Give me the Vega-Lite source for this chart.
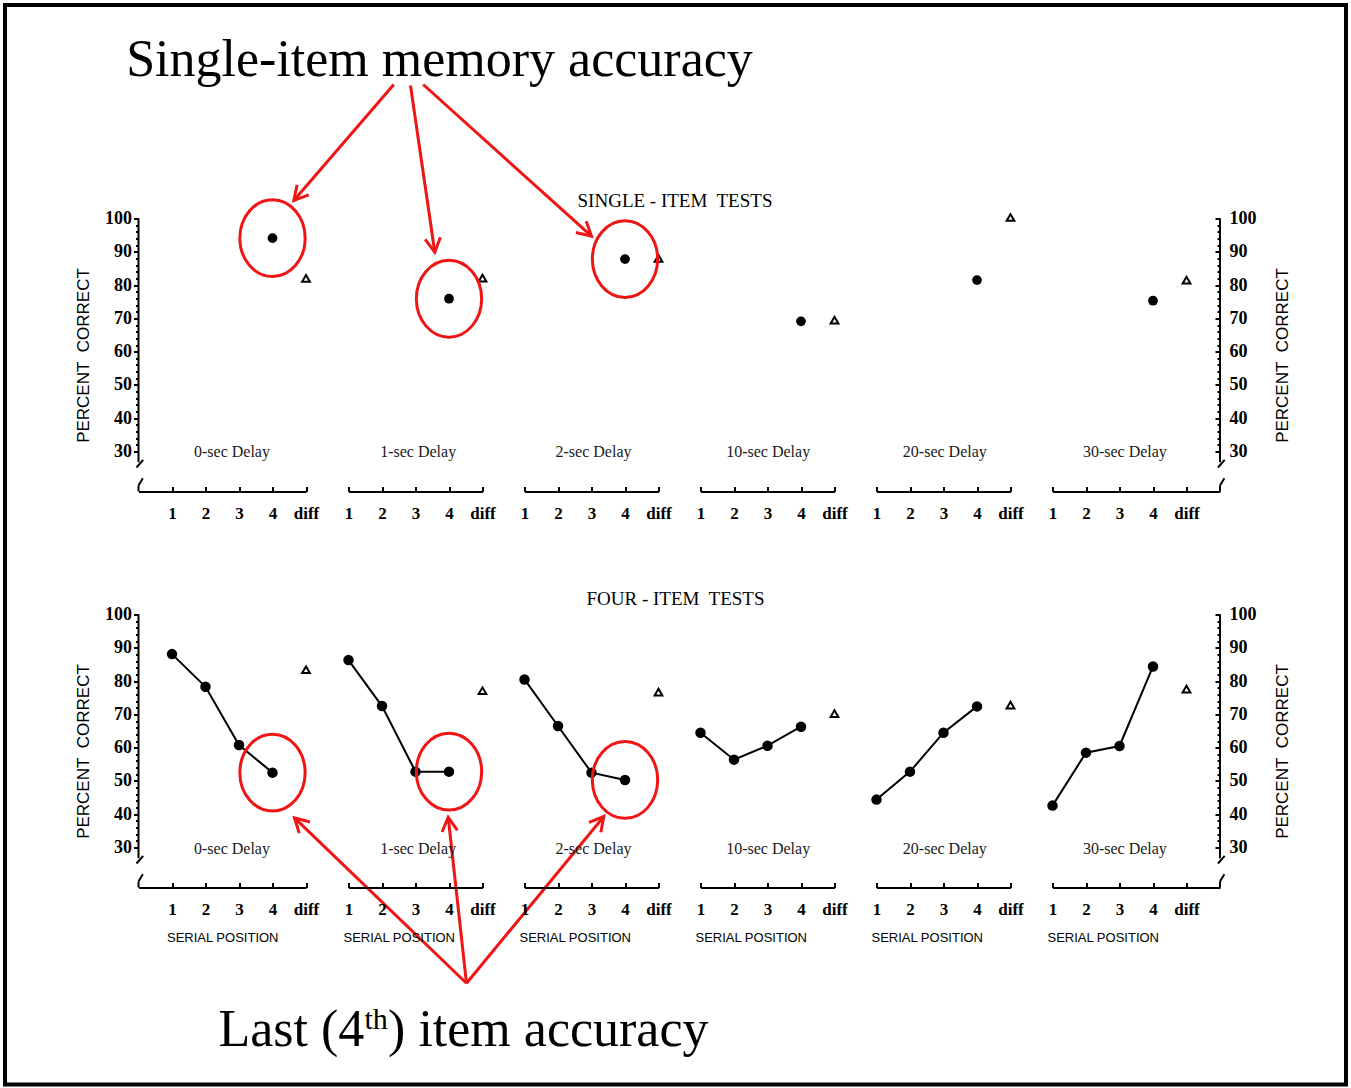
{
 "$schema": "https://vega.github.io/schema/vega-lite/v6.json",
 "background": "white",
 "padding": {"left": 2.5, "top": 2.5, "right": 2, "bottom": 2},
 "autosize": {"type": "pad"},
 "bounds": "flush",
 "align": "each",
 "columns": 6,
 "spacing": {"row": 123, "column": 42},
 "datasets": {
  "single": [
   {"delay": "0-sec", "pos": 4, "kind": "item", "pct": 94.1},
   {"delay": "0-sec", "pos": 5, "kind": "diff", "pct": 82.0},
   {"delay": "1-sec", "pos": 4, "kind": "item", "pct": 75.9},
   {"delay": "1-sec", "pos": 5, "kind": "diff", "pct": 82.1},
   {"delay": "2-sec", "pos": 4, "kind": "item", "pct": 87.8},
   {"delay": "2-sec", "pos": 5, "kind": "diff", "pct": 88.0},
   {"delay": "10-sec", "pos": 4, "kind": "item", "pct": 69.1},
   {"delay": "10-sec", "pos": 5, "kind": "diff", "pct": 69.5},
   {"delay": "20-sec", "pos": 4, "kind": "item", "pct": 81.5},
   {"delay": "20-sec", "pos": 5, "kind": "diff", "pct": 100.3},
   {"delay": "30-sec", "pos": 4, "kind": "item", "pct": 75.3},
   {"delay": "30-sec", "pos": 5, "kind": "diff", "pct": 81.5}
  ],
  "four": [
   {"delay": "0-sec", "pos": 1, "kind": "item", "pct": 88.1},
   {"delay": "0-sec", "pos": 2, "kind": "item", "pct": 78.3},
   {"delay": "0-sec", "pos": 3, "kind": "item", "pct": 60.8},
   {"delay": "0-sec", "pos": 4, "kind": "item", "pct": 52.5},
   {"delay": "0-sec", "pos": 5, "kind": "diff", "pct": 83.4},
   {"delay": "1-sec", "pos": 1, "kind": "item", "pct": 86.3},
   {"delay": "1-sec", "pos": 2, "kind": "item", "pct": 72.5},
   {"delay": "1-sec", "pos": 3, "kind": "item", "pct": 52.8},
   {"delay": "1-sec", "pos": 4, "kind": "item", "pct": 52.8},
   {"delay": "1-sec", "pos": 5, "kind": "diff", "pct": 77.1},
   {"delay": "2-sec", "pos": 1, "kind": "item", "pct": 80.5},
   {"delay": "2-sec", "pos": 2, "kind": "item", "pct": 66.5},
   {"delay": "2-sec", "pos": 3, "kind": "item", "pct": 52.5},
   {"delay": "2-sec", "pos": 4, "kind": "item", "pct": 50.3},
   {"delay": "2-sec", "pos": 5, "kind": "diff", "pct": 76.7},
   {"delay": "10-sec", "pos": 1, "kind": "item", "pct": 64.5},
   {"delay": "10-sec", "pos": 2, "kind": "item", "pct": 56.4},
   {"delay": "10-sec", "pos": 3, "kind": "item", "pct": 60.6},
   {"delay": "10-sec", "pos": 4, "kind": "item", "pct": 66.3},
   {"delay": "10-sec", "pos": 5, "kind": "diff", "pct": 70.2},
   {"delay": "20-sec", "pos": 1, "kind": "item", "pct": 44.4},
   {"delay": "20-sec", "pos": 2, "kind": "item", "pct": 52.8},
   {"delay": "20-sec", "pos": 3, "kind": "item", "pct": 64.5},
   {"delay": "20-sec", "pos": 4, "kind": "item", "pct": 72.4},
   {"delay": "20-sec", "pos": 5, "kind": "diff", "pct": 72.8},
   {"delay": "30-sec", "pos": 1, "kind": "item", "pct": 42.6},
   {"delay": "30-sec", "pos": 2, "kind": "item", "pct": 58.5},
   {"delay": "30-sec", "pos": 3, "kind": "item", "pct": 60.5},
   {"delay": "30-sec", "pos": 4, "kind": "item", "pct": 84.4},
   {"delay": "30-sec", "pos": 5, "kind": "diff", "pct": 77.6}
  ]
 },
 "concat": [
  {
   "width": 167.5, "height": 273,
   "data": {"name": "single"},
   "encoding": {
    "x": {"type": "quantitative", "scale": {"domain": [0, 5], "nice": false, "zero": false},
          "axis": {"values": [1, 2, 3, 4, 5], "labelExpr": "datum.value === 5 ? 'diff' : datum.label", "tickSize": -5, "labelPadding": 19, "title": null}},
    "y": {"type": "quantitative", "scale": {"domain": [18, 100], "nice": false, "zero": false},
          "axis": {"values": [30,32,34,36,38,40,42,44,46,48,50,52,54,56,58,60,62,64,66,68,70,72,74,76,78,80,82,84,86,88,90,92,94,96,98,100],
                   "labelExpr": "datum.value % 10 === 0 ? datum.label : ''",
                   "tickSize": {"condition": {"test": "datum.value % 10 === 0", "value": 5}, "value": 3},
                   "domain": false, "labelPadding": 2, "title": "PERCENT\u00a0 CORRECT", "titleFont": "Liberation Sans", "titleFontSize": 17, "titleFontWeight": "normal", "titlePadding": 12}}
   },
   "layer": [
    {"data": {"values": [{}]}, "mark": {"type": "rect", "fillOpacity": 0, "stroke": "black", "strokeWidth": 4, "clip": false},
     "encoding": {"x": {"datum": -3.985}, "x2": {"datum": 36.045}, "y": {"datum": 164.13}, "y2": {"datum": -160.14}}},
    {"data": {"values": [{}]}, "mark": {"type": "text", "text": "Single-item memory accuracy", "font": "Liberation Serif", "fontSize": 52, "color": "black", "align": "center", "baseline": "alphabetic", "clip": false},
     "encoding": {"x": {"datum": 8.985}, "y": {"datum": 142.66}}},
    {"data": {"values": [{}]}, "mark": {"type": "text", "text": "SINGLE - ITEM\u00a0 TESTS", "font": "Liberation Serif", "fontSize": 19, "color": "black", "align": "center", "baseline": "alphabetic", "clip": false},
     "encoding": {"x": {"datum": 16.015}, "y": {"datum": 103.6}}},
    {"data": {"values": [{}]}, "mark": {"type": "rule", "color": "#f01515", "strokeWidth": 3, "clip": false},
     "encoding": {"x": {"datum": 7.621}, "y": {"datum": 140.25}, "x2": {"datum": 4.636}, "y2": {"datum": 105.41}}},
    {"data": {"values": [{}]}, "mark": {"type": "point", "shape": "M-0.55,1L0,0L0.55,1", "filled": false, "size": 784, "color": "#f01515", "strokeWidth": 3, "angle": 220.8, "opacity": 1, "clip": false},
     "encoding": {"x": {"datum": 4.636}, "y": {"datum": 105.41}}},
    {"data": {"values": [{}]}, "mark": {"type": "rule", "color": "#f01515", "strokeWidth": 3, "clip": false},
     "encoding": {"x": {"datum": 8.119}, "y": {"datum": 139.95}, "x2": {"datum": 8.845}, "y2": {"datum": 89.88}}},
    {"data": {"values": [{}]}, "mark": {"type": "point", "shape": "M-0.55,1L0,0L0.55,1", "filled": false, "size": 784, "color": "#f01515", "strokeWidth": 3, "angle": 171.7, "opacity": 1, "clip": false},
     "encoding": {"x": {"datum": 8.845}, "y": {"datum": 89.88}}},
    {"data": {"values": [{}]}, "mark": {"type": "rule", "color": "#f01515", "strokeWidth": 3, "clip": false},
     "encoding": {"x": {"datum": 8.499}, "y": {"datum": 140.25}, "x2": {"datum": 13.522}, "y2": {"datum": 94.68}}},
    {"data": {"values": [{}]}, "mark": {"type": "point", "shape": "M-0.55,1L0,0L0.55,1", "filled": false, "size": 784, "color": "#f01515", "strokeWidth": 3, "angle": 132.0, "opacity": 1, "clip": false},
     "encoding": {"x": {"datum": 13.522}, "y": {"datum": 94.68}}},
    {"data": {"values": [{}]}, "mark": {"type": "rule", "color": "black", "strokeWidth": 2, "clip": false},
     "encoding": {"x": {"datum": 0}, "y": {"datum": 26.8}, "y2": {"datum": 100}}},
    {"data": {"values": [{}]}, "mark": {"type": "rule", "color": "black", "strokeWidth": 2, "clip": false},
     "encoding": {"x": {"datum": -0.06}, "y": {"datum": 25.2}, "x2": {"datum": 0.14}, "y2": {"datum": 27.5}}},
    {"data": {"values": [{}]}, "mark": {"type": "rule", "color": "black", "strokeWidth": 2, "clip": false},
     "encoding": {"x": {"datum": 0.13}, "y": {"datum": 22}, "x2": {"datum": 0}, "y2": {"datum": 19.8}}},
    {"data": {"values": [{}]}, "mark": {"type": "rule", "color": "black", "strokeWidth": 2, "clip": false},
     "encoding": {"x": {"datum": 0}, "y": {"datum": 18}, "y2": {"datum": 19.8}}},
    {"data": {"values": [{}]}, "mark": {"type": "text", "text": "0-sec Delay", "font": "Liberation Serif", "fontSize": 16, "color": "#1a1a1a", "align": "center", "baseline": "alphabetic"},
     "encoding": {"x": {"datum": 2.79}, "y": {"datum": 28.5}}},
    {"transform": [{"filter": "datum.delay === '0-sec' && datum.kind === 'item'"}], "mark": {"type": "point", "shape": "circle", "filled": true, "size": 95, "color": "black", "opacity": 1},
     "encoding": {"x": {"field": "pos"}, "y": {"field": "pct"}}},
    {"transform": [{"filter": "datum.delay === '0-sec' && datum.kind === 'diff'"}], "mark": {"type": "point", "shape": "triangle-up", "filled": false, "size": 60, "color": "black", "strokeWidth": 2, "opacity": 1},
     "encoding": {"x": {"field": "pos"}, "y": {"field": "pct"}}},
    {"transform": [{"filter": "datum.delay === '0-sec' && datum.kind === 'item' && datum.pos === 4"}], "mark": {"type": "point", "shape": "M0,-1C0.4694,-1,0.85,-0.5523,0.85,0C0.85,0.5523,0.4694,1,0,1C-0.4694,1,-0.85,0.5523,-0.85,0C-0.85,-0.5523,-0.4694,-1,0,-1Z", "filled": false, "size": 5900, "color": "#f01515", "strokeWidth": 3, "opacity": 1},
     "encoding": {"x": {"field": "pos"}, "y": {"field": "pct"}}}
   ]
  },
  {
   "width": 134, "height": 273,
   "data": {"name": "single"},
   "encoding": {
    "x": {"type": "quantitative", "scale": {"domain": [1, 5], "nice": false, "zero": false},
          "axis": {"values": [1, 2, 3, 4, 5], "labelExpr": "datum.value === 5 ? 'diff' : datum.label", "tickSize": -5, "labelPadding": 19, "title": null}},
    "y": {"type": "quantitative", "scale": {"domain": [18, 100], "nice": false, "zero": false}, "axis": null}
   },
   "layer": [
    {"data": {"values": [{}]}, "mark": {"type": "text", "text": "1-sec Delay", "font": "Liberation Serif", "fontSize": 16, "color": "#1a1a1a", "align": "center", "baseline": "alphabetic"},
     "encoding": {"x": {"datum": 3.08}, "y": {"datum": 28.5}}},
    {"transform": [{"filter": "datum.delay === '1-sec' && datum.kind === 'item'"}], "mark": {"type": "point", "shape": "circle", "filled": true, "size": 95, "color": "black", "opacity": 1},
     "encoding": {"x": {"field": "pos"}, "y": {"field": "pct"}}},
    {"transform": [{"filter": "datum.delay === '1-sec' && datum.kind === 'diff'"}], "mark": {"type": "point", "shape": "triangle-up", "filled": false, "size": 60, "color": "black", "strokeWidth": 2, "opacity": 1},
     "encoding": {"x": {"field": "pos"}, "y": {"field": "pct"}}},
    {"transform": [{"filter": "datum.delay === '1-sec' && datum.kind === 'item' && datum.pos === 4"}], "mark": {"type": "point", "shape": "M0,-1C0.4694,-1,0.85,-0.5523,0.85,0C0.85,0.5523,0.4694,1,0,1C-0.4694,1,-0.85,0.5523,-0.85,0C-0.85,-0.5523,-0.4694,-1,0,-1Z", "filled": false, "size": 5900, "color": "#f01515", "strokeWidth": 3, "opacity": 1},
     "encoding": {"x": {"field": "pos"}, "y": {"field": "pct"}}}
   ]
  },
  {
   "width": 134, "height": 273,
   "data": {"name": "single"},
   "encoding": {
    "x": {"type": "quantitative", "scale": {"domain": [1, 5], "nice": false, "zero": false},
          "axis": {"values": [1, 2, 3, 4, 5], "labelExpr": "datum.value === 5 ? 'diff' : datum.label", "tickSize": -5, "labelPadding": 19, "title": null}},
    "y": {"type": "quantitative", "scale": {"domain": [18, 100], "nice": false, "zero": false}, "axis": null}
   },
   "layer": [
    {"data": {"values": [{}]}, "mark": {"type": "text", "text": "2-sec Delay", "font": "Liberation Serif", "fontSize": 16, "color": "#1a1a1a", "align": "center", "baseline": "alphabetic"},
     "encoding": {"x": {"datum": 3.06}, "y": {"datum": 28.5}}},
    {"transform": [{"filter": "datum.delay === '2-sec' && datum.kind === 'item'"}], "mark": {"type": "point", "shape": "circle", "filled": true, "size": 95, "color": "black", "opacity": 1},
     "encoding": {"x": {"field": "pos"}, "y": {"field": "pct"}}},
    {"transform": [{"filter": "datum.delay === '2-sec' && datum.kind === 'diff'"}], "mark": {"type": "point", "shape": "triangle-up", "filled": false, "size": 60, "color": "black", "strokeWidth": 2, "opacity": 1},
     "encoding": {"x": {"field": "pos"}, "y": {"field": "pct"}}},
    {"transform": [{"filter": "datum.delay === '2-sec' && datum.kind === 'item' && datum.pos === 4"}], "mark": {"type": "point", "shape": "M0,-1C0.4694,-1,0.85,-0.5523,0.85,0C0.85,0.5523,0.4694,1,0,1C-0.4694,1,-0.85,0.5523,-0.85,0C-0.85,-0.5523,-0.4694,-1,0,-1Z", "filled": false, "size": 5900, "color": "#f01515", "strokeWidth": 3, "opacity": 1},
     "encoding": {"x": {"field": "pos"}, "y": {"field": "pct"}}}
   ]
  },
  {
   "width": 134, "height": 273,
   "data": {"name": "single"},
   "encoding": {
    "x": {"type": "quantitative", "scale": {"domain": [1, 5], "nice": false, "zero": false},
          "axis": {"values": [1, 2, 3, 4, 5], "labelExpr": "datum.value === 5 ? 'diff' : datum.label", "tickSize": -5, "labelPadding": 19, "title": null}},
    "y": {"type": "quantitative", "scale": {"domain": [18, 100], "nice": false, "zero": false}, "axis": null}
   },
   "layer": [
    {"data": {"values": [{}]}, "mark": {"type": "text", "text": "10-sec Delay", "font": "Liberation Serif", "fontSize": 16, "color": "#1a1a1a", "align": "center", "baseline": "alphabetic"},
     "encoding": {"x": {"datum": 3.02}, "y": {"datum": 28.5}}},
    {"transform": [{"filter": "datum.delay === '10-sec' && datum.kind === 'item'"}], "mark": {"type": "point", "shape": "circle", "filled": true, "size": 95, "color": "black", "opacity": 1},
     "encoding": {"x": {"field": "pos"}, "y": {"field": "pct"}}},
    {"transform": [{"filter": "datum.delay === '10-sec' && datum.kind === 'diff'"}], "mark": {"type": "point", "shape": "triangle-up", "filled": false, "size": 60, "color": "black", "strokeWidth": 2, "opacity": 1},
     "encoding": {"x": {"field": "pos"}, "y": {"field": "pct"}}}
   ]
  },
  {
   "width": 134, "height": 273,
   "data": {"name": "single"},
   "encoding": {
    "x": {"type": "quantitative", "scale": {"domain": [1, 5], "nice": false, "zero": false},
          "axis": {"values": [1, 2, 3, 4, 5], "labelExpr": "datum.value === 5 ? 'diff' : datum.label", "tickSize": -5, "labelPadding": 19, "title": null}},
    "y": {"type": "quantitative", "scale": {"domain": [18, 100], "nice": false, "zero": false}, "axis": null}
   },
   "layer": [
    {"data": {"values": [{}]}, "mark": {"type": "text", "text": "20-sec Delay", "font": "Liberation Serif", "fontSize": 16, "color": "#1a1a1a", "align": "center", "baseline": "alphabetic"},
     "encoding": {"x": {"datum": 3.04}, "y": {"datum": 28.5}}},
    {"transform": [{"filter": "datum.delay === '20-sec' && datum.kind === 'item'"}], "mark": {"type": "point", "shape": "circle", "filled": true, "size": 95, "color": "black", "opacity": 1},
     "encoding": {"x": {"field": "pos"}, "y": {"field": "pct"}}},
    {"transform": [{"filter": "datum.delay === '20-sec' && datum.kind === 'diff'"}], "mark": {"type": "point", "shape": "triangle-up", "filled": false, "size": 60, "color": "black", "strokeWidth": 2, "opacity": 1},
     "encoding": {"x": {"field": "pos"}, "y": {"field": "pct"}}}
   ]
  },
  {
   "width": 167.5, "height": 273,
   "data": {"name": "single"},
   "encoding": {
    "x": {"type": "quantitative", "scale": {"domain": [1, 6], "nice": false, "zero": false},
          "axis": {"values": [1, 2, 3, 4, 5], "labelExpr": "datum.value === 5 ? 'diff' : datum.label", "tickSize": -5, "labelPadding": 19, "title": null}},
    "y": {"type": "quantitative", "scale": {"domain": [18, 100], "nice": false, "zero": false},
          "axis": {"orient": "right", "values": [30,32,34,36,38,40,42,44,46,48,50,52,54,56,58,60,62,64,66,68,70,72,74,76,78,80,82,84,86,88,90,92,94,96,98,100],
                   "labelExpr": "datum.value % 10 === 0 ? datum.label : ''",
                   "tickSize": {"condition": {"test": "datum.value % 10 === 0", "value": -5}, "value": -3},
                   "domain": false, "labelPadding": 14, "title": "PERCENT\u00a0 CORRECT", "titleFont": "Liberation Sans", "titleFontSize": 17, "titleFontWeight": "normal", "titleAngle": 270, "titleBaseline": "top", "titlePadding": 18}}
   },
   "layer": [
    {"data": {"values": [{}]}, "mark": {"type": "rule", "color": "black", "strokeWidth": 2, "clip": false},
     "encoding": {"x": {"datum": 6}, "y": {"datum": 26.8}, "y2": {"datum": 100}}},
    {"data": {"values": [{}]}, "mark": {"type": "rule", "color": "black", "strokeWidth": 2, "clip": false},
     "encoding": {"x": {"datum": 5.94}, "y": {"datum": 25.2}, "x2": {"datum": 6.14}, "y2": {"datum": 27.5}}},
    {"data": {"values": [{}]}, "mark": {"type": "rule", "color": "black", "strokeWidth": 2, "clip": false},
     "encoding": {"x": {"datum": 6.13}, "y": {"datum": 22}, "x2": {"datum": 6}, "y2": {"datum": 19.8}}},
    {"data": {"values": [{}]}, "mark": {"type": "rule", "color": "black", "strokeWidth": 2, "clip": false},
     "encoding": {"x": {"datum": 6}, "y": {"datum": 18}, "y2": {"datum": 19.8}}},
    {"data": {"values": [{}]}, "mark": {"type": "text", "text": "30-sec Delay", "font": "Liberation Serif", "fontSize": 16, "color": "#1a1a1a", "align": "center", "baseline": "alphabetic"},
     "encoding": {"x": {"datum": 3.16}, "y": {"datum": 28.5}}},
    {"transform": [{"filter": "datum.delay === '30-sec' && datum.kind === 'item'"}], "mark": {"type": "point", "shape": "circle", "filled": true, "size": 95, "color": "black", "opacity": 1},
     "encoding": {"x": {"field": "pos"}, "y": {"field": "pct"}}},
    {"transform": [{"filter": "datum.delay === '30-sec' && datum.kind === 'diff'"}], "mark": {"type": "point", "shape": "triangle-up", "filled": false, "size": 60, "color": "black", "strokeWidth": 2, "opacity": 1},
     "encoding": {"x": {"field": "pos"}, "y": {"field": "pct"}}}
   ]
  },
  {
   "width": 167.5, "height": 273,
   "data": {"name": "four"},
   "encoding": {
    "x": {"type": "quantitative", "scale": {"domain": [0, 5], "nice": false, "zero": false},
          "axis": {"values": [1, 2, 3, 4, 5], "labelExpr": "datum.value === 5 ? 'diff' : datum.label", "tickSize": -5, "labelPadding": 19, "title": "SERIAL POSITION", "titleFont": "Liberation Sans", "titleFontSize": 13, "titleFontWeight": "normal", "titlePadding": 14}},
    "y": {"type": "quantitative", "scale": {"domain": [18, 100], "nice": false, "zero": false},
          "axis": {"values": [30,32,34,36,38,40,42,44,46,48,50,52,54,56,58,60,62,64,66,68,70,72,74,76,78,80,82,84,86,88,90,92,94,96,98,100],
                   "labelExpr": "datum.value % 10 === 0 ? datum.label : ''",
                   "tickSize": {"condition": {"test": "datum.value % 10 === 0", "value": 5}, "value": 3},
                   "domain": false, "labelPadding": 2, "title": "PERCENT\u00a0 CORRECT", "titleFont": "Liberation Sans", "titleFontSize": 17, "titleFontWeight": "normal", "titlePadding": 12}}
   },
   "layer": [
    {"data": {"values": [{}]}, "mark": {"type": "text", "text": "FOUR - ITEM\u00a0 TESTS", "font": "Liberation Serif", "fontSize": 19, "color": "black", "align": "center", "baseline": "alphabetic", "clip": false},
     "encoding": {"x": {"datum": 16.03}, "y": {"datum": 102.9}}},
    {"data": {"values": [{}]}, "mark": {"type": "text", "text": "Last (4", "font": "Liberation Serif", "fontSize": 52, "color": "black", "align": "left", "baseline": "alphabetic", "clip": false},
     "encoding": {"x": {"datum": 2.388}, "y": {"datum": -29.47}}},
    {"data": {"values": [{}]}, "mark": {"type": "text", "text": "th", "font": "Liberation Serif", "fontSize": 30, "color": "black", "align": "left", "baseline": "alphabetic", "clip": false},
     "encoding": {"x": {"datum": 6.746}, "y": {"datum": -24.4}}},
    {"data": {"values": [{}]}, "mark": {"type": "text", "text": ") item accuracy", "font": "Liberation Serif", "fontSize": 52, "color": "black", "align": "left", "baseline": "alphabetic", "clip": false},
     "encoding": {"x": {"datum": 7.45}, "y": {"datum": -29.47}}},
    {"data": {"values": [{}]}, "mark": {"type": "rule", "color": "#f01515", "strokeWidth": 3, "clip": false},
     "encoding": {"x": {"datum": 9.791}, "y": {"datum": -10.75}, "x2": {"datum": 4.657}, "y2": {"datum": 38.93}}},
    {"data": {"values": [{}]}, "mark": {"type": "point", "shape": "M-0.55,1L0,0L0.55,1", "filled": false, "size": 784, "color": "#f01515", "strokeWidth": 3, "angle": 313.9, "opacity": 1, "clip": false},
     "encoding": {"x": {"datum": 4.657}, "y": {"datum": 38.93}}},
    {"data": {"values": [{}]}, "mark": {"type": "rule", "color": "#f01515", "strokeWidth": 3, "clip": false},
     "encoding": {"x": {"datum": 9.791}, "y": {"datum": -10.75}, "x2": {"datum": 9.245}, "y2": {"datum": 39.11}}},
    {"data": {"values": [{}]}, "mark": {"type": "point", "shape": "M-0.55,1L0,0L0.55,1", "filled": false, "size": 784, "color": "#f01515", "strokeWidth": 3, "angle": 353.7, "opacity": 1, "clip": false},
     "encoding": {"x": {"datum": 9.245}, "y": {"datum": 39.11}}},
    {"data": {"values": [{}]}, "mark": {"type": "rule", "color": "#f01515", "strokeWidth": 3, "clip": false},
     "encoding": {"x": {"datum": 9.791}, "y": {"datum": -10.75}, "x2": {"datum": 13.89}, "y2": {"datum": 39.32}}},
    {"data": {"values": [{}]}, "mark": {"type": "point", "shape": "M-0.55,1L0,0L0.55,1", "filled": false, "size": 784, "color": "#f01515", "strokeWidth": 3, "angle": 39.5, "opacity": 1, "clip": false},
     "encoding": {"x": {"datum": 13.89}, "y": {"datum": 39.32}}},
    {"data": {"values": [{}]}, "mark": {"type": "rule", "color": "black", "strokeWidth": 2, "clip": false},
     "encoding": {"x": {"datum": 0}, "y": {"datum": 26.8}, "y2": {"datum": 100}}},
    {"data": {"values": [{}]}, "mark": {"type": "rule", "color": "black", "strokeWidth": 2, "clip": false},
     "encoding": {"x": {"datum": -0.06}, "y": {"datum": 25.2}, "x2": {"datum": 0.14}, "y2": {"datum": 27.5}}},
    {"data": {"values": [{}]}, "mark": {"type": "rule", "color": "black", "strokeWidth": 2, "clip": false},
     "encoding": {"x": {"datum": 0.13}, "y": {"datum": 22}, "x2": {"datum": 0}, "y2": {"datum": 19.8}}},
    {"data": {"values": [{}]}, "mark": {"type": "rule", "color": "black", "strokeWidth": 2, "clip": false},
     "encoding": {"x": {"datum": 0}, "y": {"datum": 18}, "y2": {"datum": 19.8}}},
    {"data": {"values": [{}]}, "mark": {"type": "text", "text": "0-sec Delay", "font": "Liberation Serif", "fontSize": 16, "color": "#1a1a1a", "align": "center", "baseline": "alphabetic"},
     "encoding": {"x": {"datum": 2.79}, "y": {"datum": 28}}},
    {"transform": [{"filter": "datum.delay === '0-sec' && datum.kind === 'item'"}], "mark": {"type": "line", "color": "black", "strokeWidth": 2},
     "encoding": {"x": {"field": "pos"}, "y": {"field": "pct"}}},
    {"transform": [{"filter": "datum.delay === '0-sec' && datum.kind === 'item'"}], "mark": {"type": "point", "shape": "circle", "filled": true, "size": 110, "color": "black", "opacity": 1},
     "encoding": {"x": {"field": "pos"}, "y": {"field": "pct"}}},
    {"transform": [{"filter": "datum.delay === '0-sec' && datum.kind === 'diff'"}], "mark": {"type": "point", "shape": "triangle-up", "filled": false, "size": 60, "color": "black", "strokeWidth": 2, "opacity": 1},
     "encoding": {"x": {"field": "pos"}, "y": {"field": "pct"}}},
    {"transform": [{"filter": "datum.delay === '0-sec' && datum.kind === 'item' && datum.pos === 4"}], "mark": {"type": "point", "shape": "M0,-1C0.4694,-1,0.85,-0.5523,0.85,0C0.85,0.5523,0.4694,1,0,1C-0.4694,1,-0.85,0.5523,-0.85,0C-0.85,-0.5523,-0.4694,-1,0,-1Z", "filled": false, "size": 5900, "color": "#f01515", "strokeWidth": 3, "opacity": 1},
     "encoding": {"x": {"field": "pos"}, "y": {"field": "pct"}}}
   ]
  },
  {
   "width": 134, "height": 273,
   "data": {"name": "four"},
   "encoding": {
    "x": {"type": "quantitative", "scale": {"domain": [1, 5], "nice": false, "zero": false},
          "axis": {"values": [1, 2, 3, 4, 5], "labelExpr": "datum.value === 5 ? 'diff' : datum.label", "tickSize": -5, "labelPadding": 19, "title": "SERIAL POSITION", "titleX": 50.25, "titleFont": "Liberation Sans", "titleFontSize": 13, "titleFontWeight": "normal", "titlePadding": 14}},
    "y": {"type": "quantitative", "scale": {"domain": [18, 100], "nice": false, "zero": false}, "axis": null}
   },
   "layer": [
    {"data": {"values": [{}]}, "mark": {"type": "text", "text": "1-sec Delay", "font": "Liberation Serif", "fontSize": 16, "color": "#1a1a1a", "align": "center", "baseline": "alphabetic"},
     "encoding": {"x": {"datum": 3.08}, "y": {"datum": 28}}},
    {"transform": [{"filter": "datum.delay === '1-sec' && datum.kind === 'item'"}], "mark": {"type": "line", "color": "black", "strokeWidth": 2},
     "encoding": {"x": {"field": "pos"}, "y": {"field": "pct"}}},
    {"transform": [{"filter": "datum.delay === '1-sec' && datum.kind === 'item'"}], "mark": {"type": "point", "shape": "circle", "filled": true, "size": 110, "color": "black", "opacity": 1},
     "encoding": {"x": {"field": "pos"}, "y": {"field": "pct"}}},
    {"transform": [{"filter": "datum.delay === '1-sec' && datum.kind === 'diff'"}], "mark": {"type": "point", "shape": "triangle-up", "filled": false, "size": 60, "color": "black", "strokeWidth": 2, "opacity": 1},
     "encoding": {"x": {"field": "pos"}, "y": {"field": "pct"}}},
    {"transform": [{"filter": "datum.delay === '1-sec' && datum.kind === 'item' && datum.pos === 4"}], "mark": {"type": "point", "shape": "M0,-1C0.4694,-1,0.85,-0.5523,0.85,0C0.85,0.5523,0.4694,1,0,1C-0.4694,1,-0.85,0.5523,-0.85,0C-0.85,-0.5523,-0.4694,-1,0,-1Z", "filled": false, "size": 5900, "color": "#f01515", "strokeWidth": 3, "opacity": 1},
     "encoding": {"x": {"field": "pos"}, "y": {"field": "pct"}}}
   ]
  },
  {
   "width": 134, "height": 273,
   "data": {"name": "four"},
   "encoding": {
    "x": {"type": "quantitative", "scale": {"domain": [1, 5], "nice": false, "zero": false},
          "axis": {"values": [1, 2, 3, 4, 5], "labelExpr": "datum.value === 5 ? 'diff' : datum.label", "tickSize": -5, "labelPadding": 19, "title": "SERIAL POSITION", "titleX": 50.25, "titleFont": "Liberation Sans", "titleFontSize": 13, "titleFontWeight": "normal", "titlePadding": 14}},
    "y": {"type": "quantitative", "scale": {"domain": [18, 100], "nice": false, "zero": false}, "axis": null}
   },
   "layer": [
    {"data": {"values": [{}]}, "mark": {"type": "text", "text": "2-sec Delay", "font": "Liberation Serif", "fontSize": 16, "color": "#1a1a1a", "align": "center", "baseline": "alphabetic"},
     "encoding": {"x": {"datum": 3.06}, "y": {"datum": 28}}},
    {"transform": [{"filter": "datum.delay === '2-sec' && datum.kind === 'item'"}], "mark": {"type": "line", "color": "black", "strokeWidth": 2},
     "encoding": {"x": {"field": "pos"}, "y": {"field": "pct"}}},
    {"transform": [{"filter": "datum.delay === '2-sec' && datum.kind === 'item'"}], "mark": {"type": "point", "shape": "circle", "filled": true, "size": 110, "color": "black", "opacity": 1},
     "encoding": {"x": {"field": "pos"}, "y": {"field": "pct"}}},
    {"transform": [{"filter": "datum.delay === '2-sec' && datum.kind === 'diff'"}], "mark": {"type": "point", "shape": "triangle-up", "filled": false, "size": 60, "color": "black", "strokeWidth": 2, "opacity": 1},
     "encoding": {"x": {"field": "pos"}, "y": {"field": "pct"}}},
    {"transform": [{"filter": "datum.delay === '2-sec' && datum.kind === 'item' && datum.pos === 4"}], "mark": {"type": "point", "shape": "M0,-1C0.4694,-1,0.85,-0.5523,0.85,0C0.85,0.5523,0.4694,1,0,1C-0.4694,1,-0.85,0.5523,-0.85,0C-0.85,-0.5523,-0.4694,-1,0,-1Z", "filled": false, "size": 5900, "color": "#f01515", "strokeWidth": 3, "opacity": 1},
     "encoding": {"x": {"field": "pos"}, "y": {"field": "pct"}}}
   ]
  },
  {
   "width": 134, "height": 273,
   "data": {"name": "four"},
   "encoding": {
    "x": {"type": "quantitative", "scale": {"domain": [1, 5], "nice": false, "zero": false},
          "axis": {"values": [1, 2, 3, 4, 5], "labelExpr": "datum.value === 5 ? 'diff' : datum.label", "tickSize": -5, "labelPadding": 19, "title": "SERIAL POSITION", "titleX": 50.25, "titleFont": "Liberation Sans", "titleFontSize": 13, "titleFontWeight": "normal", "titlePadding": 14}},
    "y": {"type": "quantitative", "scale": {"domain": [18, 100], "nice": false, "zero": false}, "axis": null}
   },
   "layer": [
    {"data": {"values": [{}]}, "mark": {"type": "text", "text": "10-sec Delay", "font": "Liberation Serif", "fontSize": 16, "color": "#1a1a1a", "align": "center", "baseline": "alphabetic"},
     "encoding": {"x": {"datum": 3.02}, "y": {"datum": 28}}},
    {"transform": [{"filter": "datum.delay === '10-sec' && datum.kind === 'item'"}], "mark": {"type": "line", "color": "black", "strokeWidth": 2},
     "encoding": {"x": {"field": "pos"}, "y": {"field": "pct"}}},
    {"transform": [{"filter": "datum.delay === '10-sec' && datum.kind === 'item'"}], "mark": {"type": "point", "shape": "circle", "filled": true, "size": 110, "color": "black", "opacity": 1},
     "encoding": {"x": {"field": "pos"}, "y": {"field": "pct"}}},
    {"transform": [{"filter": "datum.delay === '10-sec' && datum.kind === 'diff'"}], "mark": {"type": "point", "shape": "triangle-up", "filled": false, "size": 60, "color": "black", "strokeWidth": 2, "opacity": 1},
     "encoding": {"x": {"field": "pos"}, "y": {"field": "pct"}}}
   ]
  },
  {
   "width": 134, "height": 273,
   "data": {"name": "four"},
   "encoding": {
    "x": {"type": "quantitative", "scale": {"domain": [1, 5], "nice": false, "zero": false},
          "axis": {"values": [1, 2, 3, 4, 5], "labelExpr": "datum.value === 5 ? 'diff' : datum.label", "tickSize": -5, "labelPadding": 19, "title": "SERIAL POSITION", "titleX": 50.25, "titleFont": "Liberation Sans", "titleFontSize": 13, "titleFontWeight": "normal", "titlePadding": 14}},
    "y": {"type": "quantitative", "scale": {"domain": [18, 100], "nice": false, "zero": false}, "axis": null}
   },
   "layer": [
    {"data": {"values": [{}]}, "mark": {"type": "text", "text": "20-sec Delay", "font": "Liberation Serif", "fontSize": 16, "color": "#1a1a1a", "align": "center", "baseline": "alphabetic"},
     "encoding": {"x": {"datum": 3.04}, "y": {"datum": 28}}},
    {"transform": [{"filter": "datum.delay === '20-sec' && datum.kind === 'item'"}], "mark": {"type": "line", "color": "black", "strokeWidth": 2},
     "encoding": {"x": {"field": "pos"}, "y": {"field": "pct"}}},
    {"transform": [{"filter": "datum.delay === '20-sec' && datum.kind === 'item'"}], "mark": {"type": "point", "shape": "circle", "filled": true, "size": 110, "color": "black", "opacity": 1},
     "encoding": {"x": {"field": "pos"}, "y": {"field": "pct"}}},
    {"transform": [{"filter": "datum.delay === '20-sec' && datum.kind === 'diff'"}], "mark": {"type": "point", "shape": "triangle-up", "filled": false, "size": 60, "color": "black", "strokeWidth": 2, "opacity": 1},
     "encoding": {"x": {"field": "pos"}, "y": {"field": "pct"}}}
   ]
  },
  {
   "width": 167.5, "height": 273,
   "data": {"name": "four"},
   "encoding": {
    "x": {"type": "quantitative", "scale": {"domain": [1, 6], "nice": false, "zero": false},
          "axis": {"values": [1, 2, 3, 4, 5], "labelExpr": "datum.value === 5 ? 'diff' : datum.label", "tickSize": -5, "labelPadding": 19, "title": "SERIAL POSITION", "titleX": 50.25, "titleFont": "Liberation Sans", "titleFontSize": 13, "titleFontWeight": "normal", "titlePadding": 14}},
    "y": {"type": "quantitative", "scale": {"domain": [18, 100], "nice": false, "zero": false},
          "axis": {"orient": "right", "values": [30,32,34,36,38,40,42,44,46,48,50,52,54,56,58,60,62,64,66,68,70,72,74,76,78,80,82,84,86,88,90,92,94,96,98,100],
                   "labelExpr": "datum.value % 10 === 0 ? datum.label : ''",
                   "tickSize": {"condition": {"test": "datum.value % 10 === 0", "value": -5}, "value": -3},
                   "domain": false, "labelPadding": 14, "title": "PERCENT\u00a0 CORRECT", "titleFont": "Liberation Sans", "titleFontSize": 17, "titleFontWeight": "normal", "titleAngle": 270, "titleBaseline": "top", "titlePadding": 18}}
   },
   "layer": [
    {"data": {"values": [{}]}, "mark": {"type": "rule", "color": "black", "strokeWidth": 2, "clip": false},
     "encoding": {"x": {"datum": 6}, "y": {"datum": 26.8}, "y2": {"datum": 100}}},
    {"data": {"values": [{}]}, "mark": {"type": "rule", "color": "black", "strokeWidth": 2, "clip": false},
     "encoding": {"x": {"datum": 5.94}, "y": {"datum": 25.2}, "x2": {"datum": 6.14}, "y2": {"datum": 27.5}}},
    {"data": {"values": [{}]}, "mark": {"type": "rule", "color": "black", "strokeWidth": 2, "clip": false},
     "encoding": {"x": {"datum": 6.13}, "y": {"datum": 22}, "x2": {"datum": 6}, "y2": {"datum": 19.8}}},
    {"data": {"values": [{}]}, "mark": {"type": "rule", "color": "black", "strokeWidth": 2, "clip": false},
     "encoding": {"x": {"datum": 6}, "y": {"datum": 18}, "y2": {"datum": 19.8}}},
    {"data": {"values": [{}]}, "mark": {"type": "text", "text": "30-sec Delay", "font": "Liberation Serif", "fontSize": 16, "color": "#1a1a1a", "align": "center", "baseline": "alphabetic"},
     "encoding": {"x": {"datum": 3.16}, "y": {"datum": 28}}},
    {"transform": [{"filter": "datum.delay === '30-sec' && datum.kind === 'item'"}], "mark": {"type": "line", "color": "black", "strokeWidth": 2},
     "encoding": {"x": {"field": "pos"}, "y": {"field": "pct"}}},
    {"transform": [{"filter": "datum.delay === '30-sec' && datum.kind === 'item'"}], "mark": {"type": "point", "shape": "circle", "filled": true, "size": 110, "color": "black", "opacity": 1},
     "encoding": {"x": {"field": "pos"}, "y": {"field": "pct"}}},
    {"transform": [{"filter": "datum.delay === '30-sec' && datum.kind === 'diff'"}], "mark": {"type": "point", "shape": "triangle-up", "filled": false, "size": 60, "color": "black", "strokeWidth": 2, "opacity": 1},
     "encoding": {"x": {"field": "pos"}, "y": {"field": "pct"}}}
   ]
  }
 ],
 "config": {
  "view": {"stroke": null},
  "axis": {"grid": false, "domainColor": "black", "tickColor": "black", "labelColor": "black", "titleColor": "black",
           "labelFont": "Liberation Serif", "labelFontWeight": "bold", "domainWidth": 2, "tickWidth": 2,
           "labelFlush": false, "labelOverlap": false, "labelBound": false},
  "axisX": {"labelFontSize": 17},
  "axisY": {"labelFontSize": 18}
 }
}
